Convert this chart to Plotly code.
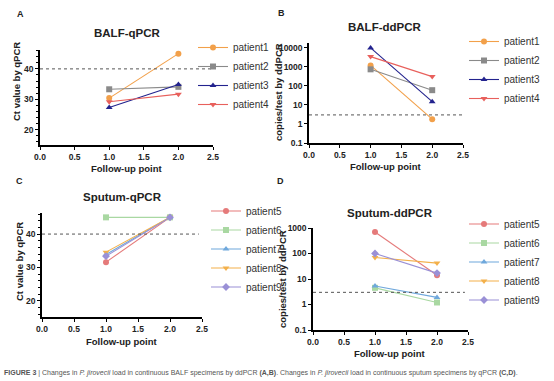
import plotly.graph_objects as go

follow_up = [1.0, 2.0]

balf_patients = ["patient1", "patient2", "patient3", "patient4"]
balf_qpcr = {
    "patient1": [30.4, 45.0],
    "patient2": [33.3, 34.1],
    "patient3": [27.3, 34.9],
    "patient4": [29.2, 31.7],
}
balf_ddpcr = {
    "patient1": [1200, 1.8],
    "patient2": [750, 60],
    "patient3": [10000, 15],
    "patient4": [3500, 310],
}

sputum_patients = ["patient5", "patient6", "patient7", "patient8", "patient9"]
sputum_qpcr = {
    "patient5": [31.6, 45.0],
    "patient6": [45.0, 45.0],
    "patient7": [33.9, 45.0],
    "patient8": [34.6, 45.0],
    "patient9": [33.4, 45.0],
}
sputum_ddpcr = {
    "patient5": [700, 14],
    "patient6": [4.5, 1.2],
    "patient7": [5.3, 1.9],
    "patient8": [70, 42],
    "patient9": [100, 17],
}

qpcr_cutoff = 40
ddpcr_cutoff = 3

x_ticks = [0.0, 0.5, 1.0, 1.5, 2.0, 2.5]
log_ticks = [0.1, 1, 10, 100, 1000, 10000]
log_tick_labels = ["0.1", "1", "10", "100", "1000", "10000"]

colors = {
    "patient1": "#F2A04A", "patient2": "#8A8A8A", "patient3": "#23238E", "patient4": "#E8605C",
    "patient5": "#E57A7A", "patient6": "#A9D8A2", "patient7": "#6FA8DC", "patient8": "#F3B04A",
    "patient9": "#9A90D6",
}
symbols = {
    "patient1": "circle", "patient2": "square", "patient3": "triangle-up", "patient4": "triangle-down",
    "patient5": "circle", "patient6": "square", "patient7": "triangle-up", "patient8": "triangle-down",
    "patient9": "diamond",
}

W, H = 554, 381
FONT = "Liberation Sans"

def px_x(a, b):
    return [a / W, b / W]

def px_y(top, bottom):
    return [1 - bottom / H, 1 - top / H]

fig = go.Figure()

panels = [
    ("x", "y", "legend", balf_patients, balf_qpcr),
    ("x2", "y2", "legend2", balf_patients, balf_ddpcr),
    ("x3", "y3", "legend3", sputum_patients, sputum_qpcr),
    ("x4", "y4", "legend4", sputum_patients, sputum_ddpcr),
]
for xa, ya, lg, pts, data in panels:
    for p in pts:
        fig.add_trace(go.Scatter(
            x=follow_up, y=data[p], name=p, mode="lines+markers",
            xaxis=xa, yaxis=ya, legend=lg,
            line=dict(color=colors[p], width=1.1),
            marker=dict(color=colors[p], symbol=symbols[p], size=6),
        ))

axis_common = dict(
    showline=True, linecolor="black", linewidth=1.5, ticks="outside", ticklen=3,
    tickwidth=1.3, tickcolor="black", showgrid=False, zeroline=False, automargin=False,
    tickfont=dict(family=FONT, size=8.5, color="#222", weight="bold"),
)
xcommon = dict(axis_common, range=[0, 2.5], tickvals=x_ticks, tickformat=".1f")

fig.update_layout(
    width=W, height=H, margin=dict(l=0, r=0, t=0, b=0, autoexpand=False),
    paper_bgcolor="white", plot_bgcolor="white", showlegend=True,
    xaxis=dict(xcommon, domain=px_x(40, 213), anchor="y"),
    yaxis=dict(axis_common, domain=px_y(50, 145), range=[15, 46.2], tickvals=[20, 30, 40],
               minor=dict(dtick=2, ticks="outside", ticklen=2, tickcolor="black"), anchor="x"),
    xaxis2=dict(xcommon, domain=px_x(309, 463), anchor="y2"),
    yaxis2=dict(axis_common, type="log", domain=px_y(43, 143), range=[-1, 4.26],
                tickvals=log_ticks, ticktext=log_tick_labels, anchor="x2"),
    xaxis3=dict(xcommon, domain=px_x(42, 202), anchor="y3"),
    yaxis3=dict(axis_common, domain=px_y(213, 317), range=[15.2, 46.3], tickvals=[20, 30, 40],
                minor=dict(dtick=2, ticks="outside", ticklen=2, tickcolor="black"), anchor="x3"),
    xaxis4=dict(xcommon, domain=px_x(313, 468), anchor="y4"),
    yaxis4=dict(axis_common, type="log", domain=px_y(228, 330), range=[-1, 3],
                tickvals=log_ticks[:5], ticktext=log_tick_labels[:5], anchor="x4"),
)

legend_common = dict(font=dict(family=FONT, size=10, color="#333"), bgcolor="rgba(0,0,0,0)",
                     xanchor="left", yanchor="middle", tracegroupgap=0, itemwidth=30)
fig.update_layout(
    legend=dict(legend_common, x=193 / W, y=1 - 76 / H),
    legend2=dict(legend_common, x=464 / W, y=1 - 70 / H),
    legend3=dict(legend_common, x=206 / W, y=1 - 249 / H),
    legend4=dict(legend_common, x=464 / W, y=1 - 262 / H),
)

# cutoff lines
for xa, ya, val, x1 in [("x", "y", qpcr_cutoff, 2.5), ("x2", "y2", ddpcr_cutoff, 2.5),
                        ("x3", "y3", qpcr_cutoff, 2.45), ("x4", "y4", ddpcr_cutoff, 2.45)]:
    fig.add_shape(type="line", xref=xa, yref=ya, x0=0, x1=x1, y0=val, y1=val,
                  line=dict(color="#555", width=1, dash="dot"))

def ann(text, cx, cy, size, angle=0, weight="bold"):
    fig.add_annotation(text=text, x=cx / W, y=1 - cy / H, xref="paper", yref="paper",
                       xanchor="center", yanchor="middle", showarrow=False, textangle=angle,
                       font=dict(family=FONT, size=size, color="#222", weight=weight))

# subplot titles
ann("BALF-qPCR", 127, 33, 11.5)
ann("BALF-ddPCR", 385, 27, 11.5)
ann("Sputum-qPCR", 122, 197, 11.5)
ann("Sputum-ddPCR", 390, 213, 11.5)

# panel letters
ann("A", 20, 14, 9)
ann("B", 281, 13, 9)
ann("C", 19, 181, 9)
ann("D", 280, 181, 9)

# axis titles
ann("Follow-up point", 127, 168, 9.5)
ann("Follow-up point", 386, 166, 9.5)
ann("Follow-up point", 122, 341, 9.5)
ann("Follow-up point", 390, 353, 9.5)
ann("Ct value by qPCR", 16, 82, 9.5, angle=-90)
ann("copies/test by ddPCR", 279, 92, 9.5, angle=-90)
ann("Ct value by qPCR", 19, 262, 9.5, angle=-90)
ann("copies/test by ddPCR", 282, 279, 9.5, angle=-90)

caption = ("<b>FIGURE 3</b> | Changes in <i>P. jirovecii</i> load in continuous BALF specimens by ddPCR "
           "<b>(A,B)</b>. Changes in <i>P. jirovecii</i> load in continuous sputum specimens by qPCR <b>(C,D)</b>.")
fig.add_annotation(text=caption, x=2 / W, y=1 - 373 / H, xref="paper", yref="paper",
                   xanchor="left", yanchor="middle", showarrow=False,
                   font=dict(family=FONT, size=7, color="#555"))

fig.write_html("out.html", config={"displayModeBar": False},
               post_script="document.body.style.margin='0';document.body.style.overflow='hidden';")
